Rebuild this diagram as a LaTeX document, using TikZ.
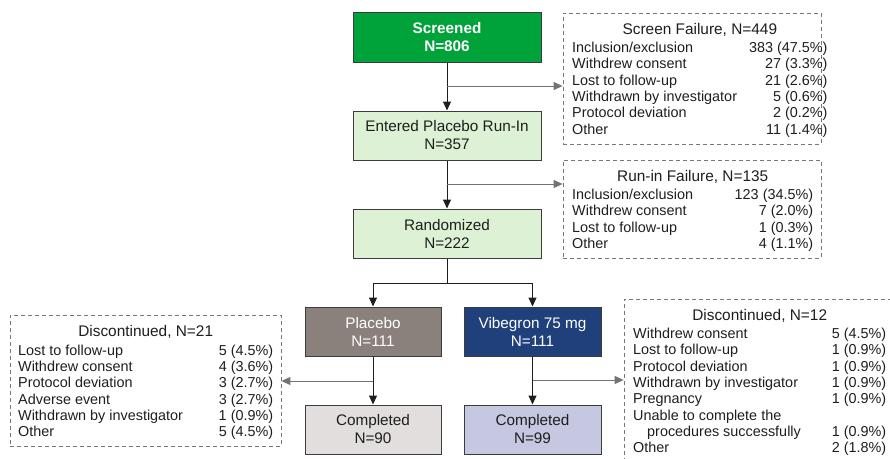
\documentclass[tikz,border=0pt]{standalone}
\usepackage{fontspec}
\setmainfont{Liberation Sans}
\usetikzlibrary{arrows.meta}

\definecolor{scrgreen}{RGB}{0,163,58}
\definecolor{lightgreen}{RGB}{221,241,212}
\definecolor{placbrown}{RGB}{139,129,124}
\definecolor{vibblue}{RGB}{31,64,122}
\definecolor{compgray}{RGB}{226,222,221}
\definecolor{complav}{RGB}{198,200,226}
\definecolor{boxline}{RGB}{60,60,60}
\definecolor{sidegray}{RGB}{115,115,115}
\definecolor{dashgray}{RGB}{120,120,120}
\definecolor{textdark}{RGB}{30,30,30}

\newcommand{\listfont}{\fontsize{14.4}{16.35}\selectfont}
\newcommand{\listtitle}[1]{\multicolumn{2}{c}{\fontsize{15.4}{16.35}\selectfont #1}}

\begin{document}
\begin{tikzpicture}[x=1pt, y=-1pt, inner sep=0pt,
  flowbox/.style = {draw=boxline, line width=1pt, align=center, text=textdark,
                    font=\fontsize{15.3}{18}\selectfont},
  failbox/.style = {draw=dashgray, line width=0.8pt, dash pattern=on 4pt off 3pt},
  listtext/.style = {anchor=north west, text=textdark, font=\listfont},
  mainarrow/.style = {draw=textdark, line width=1pt, -{Triangle[length=9pt,width=8pt]}},
  sidearrow/.style = {draw=sidegray, line width=1pt, -{Triangle[length=9pt,width=8pt]}}]
  \useasboundingbox (0,0) rectangle (890,458);
  \clip (0,0) rectangle (890,458);

  % main column
  \node[flowbox, fill=scrgreen, text=white, font=\bfseries\fontsize{15.3}{18}\selectfont,
        minimum width=188, minimum height=50] (scr) at (447,37) {Screened\\N=806};
  \node[flowbox, fill=lightgreen, minimum width=188, minimum height=49] (runin) at (447,135.5) {Entered Placebo Run-In\\N=357};
  \node[flowbox, fill=lightgreen, minimum width=188, minimum height=49] (rand) at (447,233.5) {Randomized\\N=222};

  % treatment arms
  \node[flowbox, fill=placbrown, text=white, minimum width=136, minimum height=49] (plac) at (373,331.5) {Placebo\\N=111};
  \node[flowbox, fill=vibblue, text=white, minimum width=137, minimum height=49] (vib) at (532.5,331.5) {Vibegron 75 mg\\N=111};
  \node[flowbox, fill=compgray, minimum width=136, minimum height=49] (cplac) at (373,429.5) {Completed\\N=90};
  \node[flowbox, fill=complav, minimum width=137, minimum height=49] (cvib) at (532.5,429.5) {Completed\\N=99};

  % dashed boxes
  \node[failbox, minimum width=258, minimum height=131] (sfail) at (692,78.5) {};
  \node[listtext] (sfailtxt) at (572,22.55) {%
    \begin{tabular*}{241pt}{@{\extracolsep{\fill}}lr@{}}
      \listtitle{Screen Failure, N=449}\\[1.8pt]
      Inclusion/exclusion & 383 (47.5\%)\\
      Withdrew consent & 27 (3.3\%)\\
      Lost to follow-up & 21 (2.6\%)\\
      Withdrawn by investigator & 5 (0.6\%)\\
      Protocol deviation & 2 (0.2\%)\\
      Other & 11 (1.4\%)
    \end{tabular*}};

  \node[failbox, minimum width=258, minimum height=98] (rfail) at (692,209) {};
  \node[listtext] (rfailtxt) at (572,169.55) {%
    \begin{tabular*}{241pt}{@{\extracolsep{\fill}}lr@{}}
      \listtitle{Run-in Failure, N=135}\\[1.8pt]
      Inclusion/exclusion & 123 (34.5\%)\\
      Withdrew consent & 7 (2.0\%)\\
      Lost to follow-up & 1 (0.3\%)\\
      Other & 4 (1.1\%)
    \end{tabular*}};

  \node[failbox, minimum width=271, minimum height=131] (disc21) at (145.5,380.5) {};
  \node[listtext] (disc21txt) at (18,325.25) {%
    \begin{tabular*}{255pt}{@{\extracolsep{\fill}}lr@{}}
      \listtitle{Discontinued, N=21}\\[1.8pt]
      Lost to follow-up & 5 (4.5\%)\\
      Withdrew consent & 4 (3.6\%)\\
      Protocol deviation & 3 (2.7\%)\\
      Adverse event & 3 (2.7\%)\\
      Withdrawn by investigator & 1 (0.9\%)\\
      Other & 5 (4.5\%)
    \end{tabular*}};

  \node[failbox, minimum width=276, minimum height=171] (disc12) at (762,384.5) {};
  \node[listtext] (disc12txt) at (633,308.55) {%
    \begin{tabular*}{253pt}{@{\extracolsep{\fill}}lr@{}}
      \listtitle{Discontinued, N=12}\\[1.8pt]
      Withdrew consent & 5 (4.5\%)\\
      Lost to follow-up & 1 (0.9\%)\\
      Protocol deviation & 1 (0.9\%)\\
      Withdrawn by investigator & 1 (0.9\%)\\
      Pregnancy & 1 (0.9\%)\\
      Unable to complete the & \\
      \hspace*{14pt}procedures successfully & 1 (0.9\%)\\
      Other & 2 (1.8\%)
    \end{tabular*}};

  % connectors
  \coordinate (b1) at (447,86);
  \coordinate (b2) at (447,184);
  \coordinate (split) at (447,283);
  \coordinate (b3) at (373,381);
  \coordinate (b4) at (532.5,380);

  \draw[mainarrow] (scr) -- (runin);
  \draw[sidearrow] (b1) -- (b1 -| sfail.west);
  \draw[mainarrow] (runin) -- (rand);
  \draw[sidearrow] (b2) -- (b2 -| rfail.west);
  \draw[draw=textdark, line width=1pt] (rand) -- (split);
  \draw[mainarrow] (split) -| (plac);
  \draw[mainarrow] (split) -| (vib);
  \draw[mainarrow] (plac) -- (cplac);
  \draw[sidearrow] (b3) -- (b3 -| disc21.east);
  \draw[mainarrow] (vib) -- (cvib);
  \draw[sidearrow] (b4) -- (b4 -| disc12.west);
\end{tikzpicture}
\end{document}
